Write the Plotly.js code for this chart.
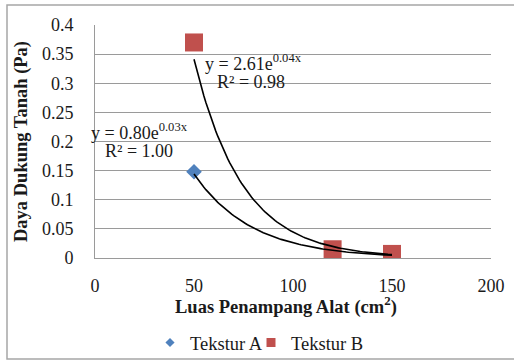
<!DOCTYPE html>
<html>
<head>
<meta charset="utf-8">
<script src="https://cdn.plot.ly/plotly-3.0.1.min.js"></script>
<style>
  html, body { margin: 0; padding: 0; background: #fff; }
  #chart { width: 514px; height: 360px; }
</style>
</head>
<body>
<div id="chart"></div>
<script>
// ---- data ----
const luasPenampang = [50, 120, 150];           // cm²
const teksturA = [0.148, 0.012, 0.005];          // Pa
const teksturB = [0.37, 0.015, 0.007];           // Pa
const seriesNames = ['Tekstur A', 'Tekstur B'];
const eqLabelA = ['y = 0.80e<sup>0.03x</sup>', 'R² = 1.00'];
const eqLabelB = ['y = 2.61e<sup>0.04x</sup>', 'R² = 0.98'];
const xTitle = 'Luas Penampang Alat (cm<sup>2</sup>)';
const yTitle = 'Daya Dukung Tanah (Pa)';

// exponential trendline (least squares on ln y), as in a spreadsheet trendline
function expFit(xs, ys) {
  const n = xs.length;
  const ly = ys.map(Math.log);
  const mx = xs.reduce((a, b) => a + b, 0) / n;
  const my = ly.reduce((a, b) => a + b, 0) / n;
  let sxy = 0, sxx = 0;
  for (let i = 0; i < n; i++) { sxy += (xs[i] - mx) * (ly[i] - my); sxx += (xs[i] - mx) ** 2; }
  const b = sxy / sxx;
  const a = Math.exp(my - b * mx);
  return { a, b };
}
function trendPoints(fit, x0, x1, steps) {
  const xs = [], ys = [];
  for (let i = 0; i <= steps; i++) {
    const x = x0 + (x1 - x0) * i / steps;
    xs.push(x); ys.push(fit.a * Math.exp(fit.b * x));
  }
  return { xs, ys };
}
const fitA = expFit(luasPenampang, teksturA);
const fitB = expFit(luasPenampang, teksturB);
const xMin = Math.min(...luasPenampang), xMax = Math.max(...luasPenampang);
const tA = trendPoints(fitA, xMin, xMax, 100);
const tB = trendPoints(fitB, xMin, xMax, 100);

const FONT = 'Liberation Serif, Times New Roman, serif';
const TXT = '#1a1a1a';
const COL_A = '#4F81BD', COL_B = '#C0504D';

const traces = [
  // data markers (legend shown by the small legend-only entries below)
  { x: luasPenampang, y: teksturA, name: seriesNames[0], legendgroup: 'A', showlegend: false,
    mode: 'markers', type: 'scatter', marker: { symbol: 'diamond', size: 12, color: COL_A } },
  { x: luasPenampang, y: teksturB, name: seriesNames[1], legendgroup: 'B', showlegend: false,
    mode: 'markers', type: 'scatter', marker: { symbol: 'square', size: 18, color: COL_B } },
  // trendlines
  { x: tA.xs, y: tA.ys, mode: 'lines', line: { color: '#000', width: 1.6 }, showlegend: false, hoverinfo: 'skip' },
  { x: tB.xs, y: tB.ys, mode: 'lines', line: { color: '#000', width: 1.6 }, showlegend: false, hoverinfo: 'skip' },
  // legend entries with the smaller legend symbols of the reference
  { x: [null], y: [null], name: seriesNames[0], legendgroup: 'A', legend: 'legend', mode: 'markers', type: 'scatter',
    marker: { symbol: 'diamond', size: 7, color: COL_A } },
  { x: [null], y: [null], name: seriesNames[1], legendgroup: 'B', legend: 'legend2', mode: 'markers', type: 'scatter',
    marker: { symbol: 'square', size: 9, color: COL_B } }
];

const L = 95, R = 23, T = 25, B = 102;
const pw = 514 - L - R, ph = 360 - T - B;
const px2x = p => (p - L) / pw;
const py2y = p => (360 - B - p) / ph;
const annFont = { family: FONT, size: 18, color: TXT };
const legFont = { family: FONT, size: 18.5, color: TXT };

const layout = {
  width: 514, height: 360,
  margin: { l: L, r: R, t: T, b: B, pad: 0, autoexpand: false },
  paper_bgcolor: '#fff', plot_bgcolor: '#fff',
  font: { family: FONT, size: 18, color: TXT },
  showlegend: true,
  xaxis: {
    range: [0, 200], dtick: 50, tick0: 0,
    showgrid: false, zeroline: false,
    showline: true, linecolor: '#9a9a9a', linewidth: 1,
    ticks: '', ticklabelstandoff: 11,
    tickfont: { family: FONT, size: 18, color: TXT }
  },
  yaxis: {
    range: [0, 0.4], dtick: 0.05, tick0: 0,
    showgrid: true, gridcolor: '#9a9a9a', gridwidth: 1,
    zeroline: false,
    showline: true, linecolor: '#9a9a9a', linewidth: 1,
    ticks: '', ticklabelstandoff: 17,
    tickfont: { family: FONT, size: 18, color: TXT },
    title: { text: yTitle, standoff: 9,
             font: { family: FONT, size: 18.5, color: TXT, weight: 'bold' } }
  },
  legend: {
    orientation: 'h', x: px2x(150), xanchor: 'left', y: py2y(343), yanchor: 'middle',
    font: legFont, bgcolor: 'rgba(0,0,0,0)'
  },
  legend2: {
    orientation: 'h', x: px2x(251), xanchor: 'left', y: py2y(343), yanchor: 'middle',
    font: legFont, bgcolor: 'rgba(0,0,0,0)'
  },
  annotations: [
    { x: px2x(203), y: py2y(62), xref: 'paper', yref: 'paper', text: eqLabelB[0], showarrow: false, xanchor: 'left', yanchor: 'middle', font: annFont },
    { x: px2x(215), y: py2y(82), xref: 'paper', yref: 'paper', text: eqLabelB[1], showarrow: false, xanchor: 'left', yanchor: 'middle', font: annFont },
    { x: px2x(89), y: py2y(131), xref: 'paper', yref: 'paper', text: eqLabelA[0], showarrow: false, xanchor: 'left', yanchor: 'middle', font: annFont },
    { x: px2x(103), y: py2y(151), xref: 'paper', yref: 'paper', text: eqLabelA[1], showarrow: false, xanchor: 'left', yanchor: 'middle', font: annFont },
    // x-axis title (placed like the reference, a little left of the plot centre)
    { x: px2x(286), y: py2y(305), xref: 'paper', yref: 'paper', text: xTitle, showarrow: false, xanchor: 'center', yanchor: 'middle',
      font: { family: FONT, size: 18.5, color: TXT, weight: 'bold' } }
  ],
  shapes: [
    { type: 'rect', xref: 'paper', yref: 'paper', layer: 'below',
      x0: px2x(7), x1: px2x(530), y0: py2y(359), y1: py2y(5),
      line: { color: '#a6a6a6', width: 1.5 }, fillcolor: 'rgba(0,0,0,0)' }
  ]
};

Plotly.newPlot('chart', traces, layout, { displayModeBar: false, staticPlot: true });
</script>
</body>
</html>
